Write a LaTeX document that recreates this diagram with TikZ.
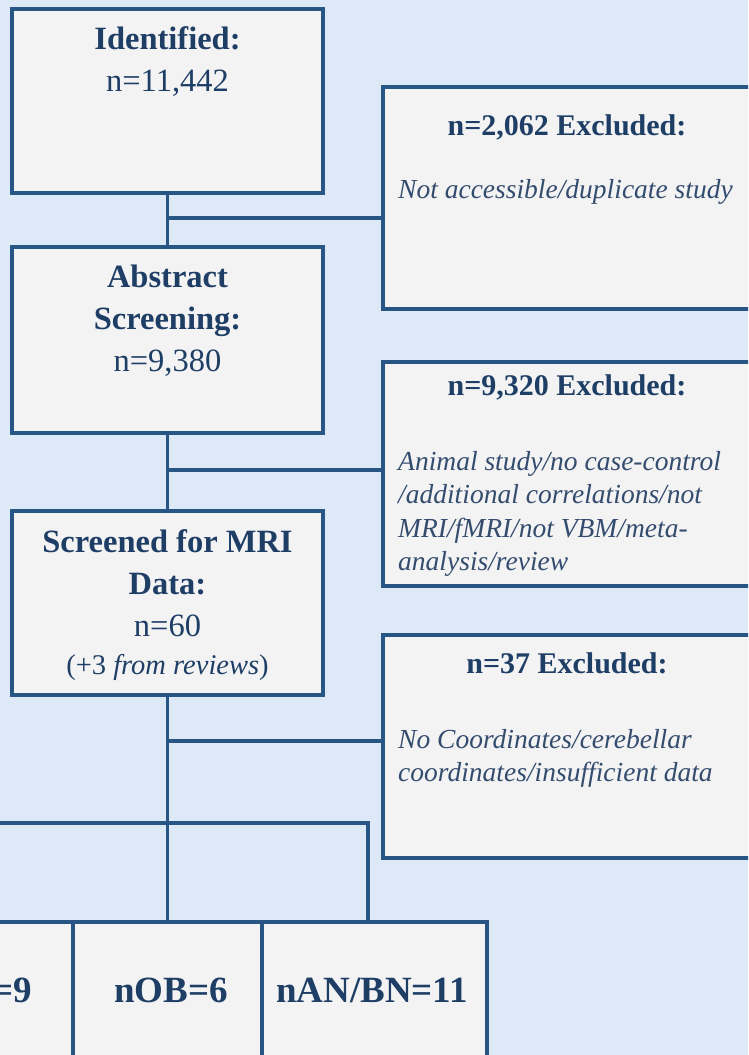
\documentclass[tikz,border=0pt]{standalone}
\usepackage{fontspec}
\setmainfont{Liberation Serif}
\usepackage{xcolor}
\usetikzlibrary{positioning}

\definecolor{bgblue}{RGB}{221,233,246}
\definecolor{edgeblue}{RGB}{40,86,132}
\definecolor{boxfill}{RGB}{243,243,244}
\definecolor{inkblue}{RGB}{30,62,102}
\definecolor{noteink}{RGB}{52,76,110}

\tikzset{
  box/.style={draw=edgeblue, line width=3.3pt, fill=boxfill, inner sep=0pt},
  link/.style={draw=edgeblue, line width=3.2pt},
  maintext/.style={anchor=north, align=center, inner sep=0pt, text=inkblue,
    font=\fontsize{32.5}{42}\selectfont},
  exhead/.style={anchor=base, inner sep=0pt, text=inkblue,
    font=\fontsize{30}{36}\selectfont\bfseries},
  exnote/.style={anchor=north west, align=left, inner sep=0pt, text=noteink,
    font=\fontsize{27.5}{33.5}\selectfont\itshape},
  grptext/.style={anchor=base, inner sep=0pt, text=inkblue,
    font=\fontsize{37}{44}\selectfont\bfseries}
}

\begin{document}
\begin{tikzpicture}[x=1pt, y=-1pt]
    % page
    \fill[bgblue] (0,0) rectangle (748,1055);
    \useasboundingbox (0,0) rectangle (748,1055);
    \clip (0,0) rectangle (748,1055);

    % main column
    \node[box, minimum width=311, minimum height=184] (ident) at (167.5,101) {};
    \node[box, minimum width=311, minimum height=186] (abstr) at (167.5,340) {};
    \node[box, minimum width=311, minimum height=184] (screen) at (167.5,603) {};

    % excluded boxes
    \node[box, minimum width=368, minimum height=222] (excl1) at (567,198) {};
    \node[box, minimum width=368, minimum height=224] (excl2) at (567,474) {};
    \node[box, minimum width=368, minimum height=223] (excl3) at (567,746.5) {};

    % groups at the bottom
    \node[box, minimum width=189, minimum height=198] (grpl) at (-21.5,1021) {};
    \node[box, minimum width=189, minimum height=198] (grpob) at (167.5,1021) {};
    \node[box, minimum width=225, minimum height=198] (grpan) at (374.5,1021) {};

    % connectors
    \coordinate (j1) at (167.5,218);
    \coordinate (j2) at (167.5,470);
    \coordinate (j3) at (167.5,741);
    \coordinate (j4) at (368,823);
    \draw[link] (ident.south) -- (abstr.north);
    \draw[link] (abstr.south) -- (screen.north);
    \draw[link] (screen.south) -- (grpob.north);
    \draw[link] (j1) -- (j1 -| excl1.west);
    \draw[link] (j2) -- (j2 -| excl2.west);
    \draw[link] (j3) -- (j3 -| excl3.west);
    \draw[link] (grpl.north) -- (grpl.north |- j4) -- (j4) -- (j4 |- grpan.north);

    % texts of the main column
    \node[maintext] (identtxt) at (167.5,26) {\textbf{Identified:}\\n=11,442};
    \node[maintext] (abstrtxt) at (167.5,265) {\textbf{Abstract}\\\textbf{Screening:}\\n=9,380};
    \node[maintext] (screentxt) at (167.5,529)
        {\textbf{Screened for MRI}\\\textbf{Data:}\\n=60\\[-4pt]
         {\fontsize{28.5}{38}\selectfont(+3 \textit{from reviews})}};

    % texts of the excluded boxes
    \node[exhead] (excl1head) at (567,135) {n=2,062 Excluded:};
    \node[exnote] (excl1note) at (398,179) {Not accessible/duplicate study};
    \node[exhead] (excl2head) at (567,395) {n=9,320 Excluded:};
    \node[exnote] (excl2note) at (398,451)
        {Animal study/no case-control\\/additional correlations/not\\MRI/fMRI/not VBM/meta-\\analysis/review};
    \node[exhead] (excl3head) at (567,673) {n=37 Excluded:};
    \node[exnote] (excl3note) at (398,729)
        {No Coordinates/cerebellar\\coordinates/insufficient data};

    % group labels
    \node[grptext, anchor=base east] (grpltxt) at (32,1002) {=9};
    \node[grptext] (grpobtxt) at (171,1002) {nOB=6};
    \node[grptext] (grpantxt) at (372,1002) {nAN/BN=11};
\end{tikzpicture}
\end{document}
